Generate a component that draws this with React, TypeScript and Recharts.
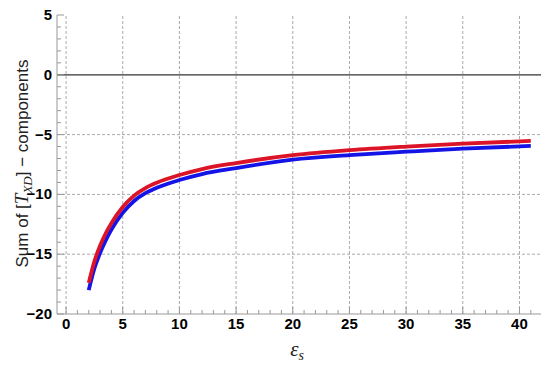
import React from "react";
import { LineChart, Line, XAxis, YAxis, ReferenceLine } from "recharts";

// values
const epsS = [2, 2.5, 3, 3.5, 4, 5, 6, 7, 8, 10, 12, 15, 20, 25, 30, 35, 41];
const redSum = [-17.4, -15.6, -14.3, -13.25, -12.4, -11.05, -10.1, -9.47, -9.02, -8.38, -7.88, -7.38, -6.72, -6.3, -6.0, -5.75, -5.53];
const blueSum = [-18.0, -16.2, -14.9, -13.85, -12.95, -11.55, -10.55, -9.9, -9.45, -8.8, -8.3, -7.8, -7.1, -6.72, -6.43, -6.17, -5.95];

const xTicks = [0, 1, 2, 3, 4, 5, 6, 7, 8, 9, 10, 11, 12, 13, 14, 15, 16, 17, 18, 19, 20, 21, 22, 23, 24, 25, 26, 27, 28, 29, 30, 31, 32, 33, 34, 35, 36, 37, 38, 39, 40, 41];
const yTicks = [-20, -19, -18, -17, -16, -15, -14, -13, -12, -11, -10, -9, -8, -7, -6, -5, -4, -3, -2, -1, 0, 1, 2, 3, 4, 5];
const xGrid = [0, 5, 10, 15, 20, 25, 30, 35, 40];
const yGrid = [-15, -10, -5];

const data = epsS.map((e, i) => ({ eps: e, red: redSum[i], blue: blueSum[i] }));

const frame = "#999";
const tickFont = "'Liberation Sans', Arial, sans-serif";
const fmt = (v: number) => (v < 0 ? "\u2212" + Math.abs(v) : String(v));
const len = (v: number) => (v % 5 === 0 ? 7 : 4);

const BottomTick = (props: any) => {
  const { x, y, payload } = props;
  const v = payload.value;
  return (
    <g>
      <line x1={x} x2={x} y1={y} y2={y - len(v)} stroke={frame} />
      {v % 5 === 0 && (
        <text x={x} y={y + 15} textAnchor="middle" fontFamily={tickFont} fontWeight="bold" fontSize={15} fill="#000">
          {fmt(v)}
        </text>
      )}
    </g>
  );
};

const TopTick = (props: any) => {
  const { x, y, payload } = props;
  return <line x1={x} x2={x} y1={y} y2={y + len(payload.value)} stroke={frame} />;
};

const LeftTick = (props: any) => {
  const { x, y, payload } = props;
  const v = payload.value;
  return (
    <g>
      <line x1={x} x2={x + len(v)} y1={y} y2={y} stroke={frame} />
      {v % 5 === 0 && (
        <text x={x - 5} y={y + 5} textAnchor="end" fontFamily={tickFont} fontWeight="bold" fontSize={15} fill="#000">
          {fmt(v)}
        </text>
      )}
    </g>
  );
};

const RightTick = (props: any) => {
  const { x, y, payload } = props;
  return <line x1={x} x2={x - len(payload.value)} y1={y} y2={y} stroke={frame} />;
};

const YLabel = (props: any) => {
  const vb = props.viewBox || { y: 15, height: 299 };
  const cx = 28;
  const cy = vb.y + vb.height / 2 - 1;
  return (
    <text x={cx} y={cy} transform={`rotate(-90 ${cx} ${cy})`} textAnchor="middle" fontFamily={tickFont} fontSize={17} fill="#222">
      Sum of [
      <tspan fontFamily="'Liberation Serif', serif" fontStyle="italic" fontSize={19}>T</tspan>
      <tspan fontFamily="'Liberation Serif', serif" fontStyle="italic" fontSize={13} dy={4}>XD</tspan>
      <tspan dy={-4}>{"] \u2212 components"}</tspan>
    </text>
  );
};

const XLabel = (props: any) => {
  const vb = props.viewBox || { x: 57, width: 484 };
  const cx = vb.x + vb.width / 2 - 2;
  return (
    <text x={cx} y={356} textAnchor="middle" fontFamily="'Liberation Serif', serif" fontStyle="italic" fontSize={21} fill="#222">
      ε<tspan fontSize={14} dy={4}>s</tspan>
    </text>
  );
};

export default function App() {
  return (
    <div style={{ position: "absolute", left: 0, top: 0, width: 550, height: 365, background: "#fff" }}>
      <LineChart width={550} height={365} data={data} margin={{ top: 15, right: 9, bottom: 0, left: 0 }}>
        <XAxis
          xAxisId="b"
          dataKey="eps"
          type="number"
          domain={[-0.8, 41.9]}
          ticks={xTicks}
          interval={0}
          orientation="bottom"
          height={51}
          tickSize={0}
          tickMargin={0}
          tickLine={false}
          axisLine={{ stroke: frame }}
          tick={BottomTick}
          label={<XLabel />}
        />
        <XAxis
          xAxisId="t"
          dataKey="eps"
          type="number"
          domain={[-0.8, 41.9]}
          ticks={xTicks}
          interval={0}
          orientation="top"
          height={0}
          tickSize={0}
          tickMargin={0}
          tickLine={false}
          axisLine={{ stroke: frame }}
          tick={TopTick}
        />
        <YAxis
          yAxisId="l"
          type="number"
          domain={[-20, 5]}
          ticks={yTicks}
          interval={0}
          orientation="left"
          width={57}
          tickSize={0}
          tickMargin={0}
          tickLine={false}
          axisLine={{ stroke: frame }}
          tick={LeftTick}
          label={<YLabel />}
        />
        <YAxis
          yAxisId="r"
          type="number"
          domain={[-20, 5]}
          ticks={yTicks}
          interval={0}
          orientation="right"
          width={0}
          tickSize={0}
          tickMargin={0}
          tickLine={false}
          axisLine={{ stroke: frame }}
          tick={RightTick}
        />
        {xGrid.map((g) => (
          <ReferenceLine key={"x" + g} xAxisId="b" yAxisId="l" x={g} stroke="#aaa" strokeDasharray="3 2" />
        ))}
        {yGrid.map((g) => (
          <ReferenceLine key={"y" + g} xAxisId="b" yAxisId="l" y={g} stroke="#aaa" strokeDasharray="3 2" />
        ))}
        <ReferenceLine xAxisId="b" yAxisId="l" y={0} stroke="#333" strokeWidth={1.2} />
        <Line xAxisId="b" yAxisId="l" dataKey="blue" type="monotone" stroke="#1414e6" strokeWidth={3.8} dot={false} isAnimationActive={false} />
        <Line xAxisId="b" yAxisId="l" dataKey="red" type="monotone" stroke="#dc1428" strokeWidth={3.8} dot={false} isAnimationActive={false} />
      </LineChart>
    </div>
  );
}
